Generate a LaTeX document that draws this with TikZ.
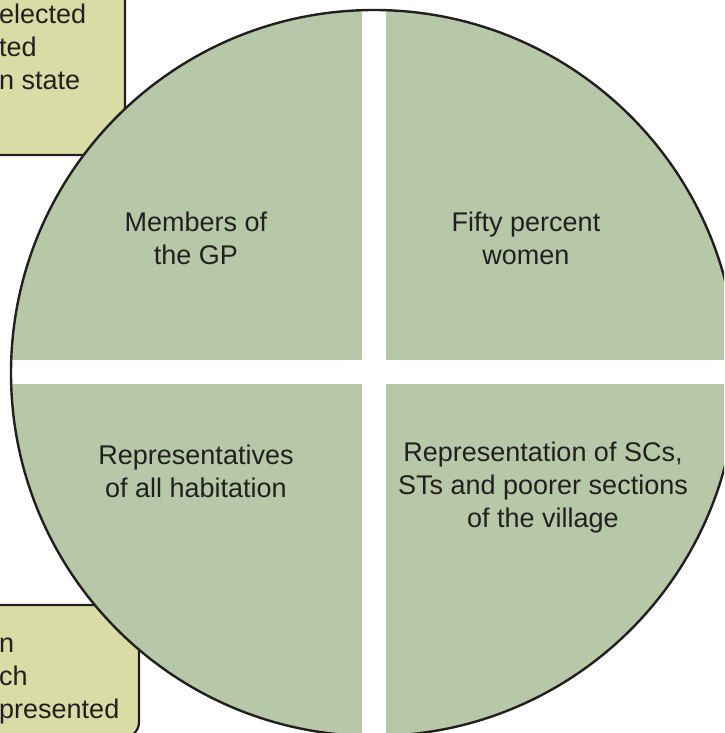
\documentclass[tikz,border=0pt]{standalone}
\usepackage{fontspec}
\setmainfont{Liberation Sans}
\definecolor{txt}{RGB}{35,31,32}
\definecolor{pie}{RGB}{182,200,167}
\definecolor{boxfill}{RGB}{217,220,164}
\tikzset{
  lbl/.style={text=txt, inner sep=0pt, font=\fontsize{27}{33}\selectfont},
  sidebox/.style={draw=txt, line width=2.2pt, fill=boxfill},
  rim/.style={draw=txt, line width=2.4pt}
}
\begin{document}
\begin{tikzpicture}[x=1pt,y=-1pt]
\useasboundingbox (0,0) rectangle (724,733);
\begin{scope}
\clip (0,0) rectangle (724,733);
% side boxes
\draw[sidebox] (-40,-40) -- (109,-40) arc[start angle=90, end angle=0, radius=16pt]
   -- (125,139) arc[start angle=0, end angle=-90, radius=16pt] -- (-40,155) -- cycle;
\node[lbl, align=left, anchor=west] (tl) at (-1,46.5) {elected\\ted\\n state};
\draw[sidebox] (-40,605) -- (123,605) arc[start angle=90, end angle=0, radius=16pt]
   -- (139,722) arc[start angle=0, end angle=-90, radius=16pt] -- (-40,738) -- cycle;
\node[lbl, align=left, anchor=west] (bl) at (-1,681.5) {n\\ch\\presented};
% circle
\coordinate (c) at (374,373);
\fill[pie] (c) circle[radius=363];
\begin{scope}
\clip (c) circle[radius=363];
\fill[white] (362,0) rectangle (386,760);
\fill[white] (0,360) rectangle (760,384);
\end{scope}
\draw[rim] (c) circle[radius=363];
\end{scope}
% quadrant texts
\node[lbl, align=center] (q1) at (196,238) {Members of\\the GP};
\node[lbl, align=center] (q2) at (526,238) {Fifty percent\\women};
\node[lbl, align=center] (q3) at (196,471) {Representatives\\of all habitation};
\node[lbl, align=center] (q4) at (543,488) {Representation of SCs,\\STs and poorer sections\\of the village};
\end{tikzpicture}
\end{document}
